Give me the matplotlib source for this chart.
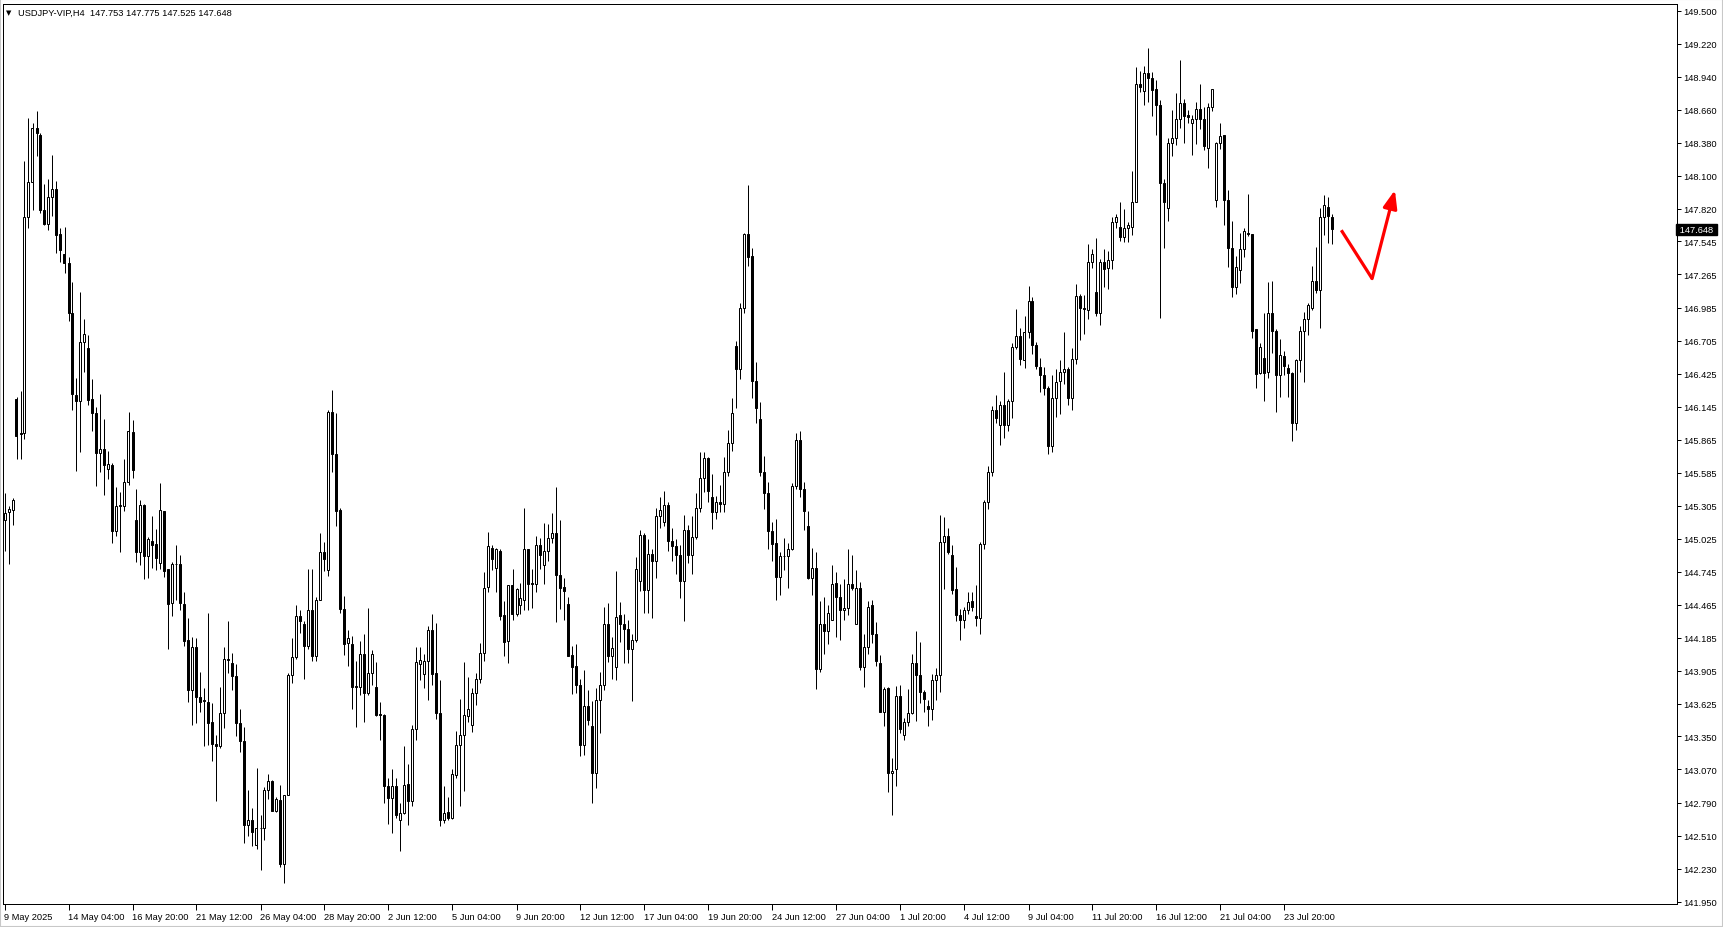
import numpy as np
import matplotlib.pyplot as plt
from matplotlib.patches import Rectangle
from matplotlib.transforms import blended_transform_factory

# USDJPY H4 candles (oldest first)
opens = [
    145.18, 145.25, 145.27, 146.21, 145.92, 145.92, 147.75, 148.05, 148.51, 148.45,
    147.81, 147.69, 147.92, 147.99, 147.61, 147.44, 147.36, 146.94, 146.24, 146.19,
    146.69, 146.64, 146.21, 146.09, 145.75, 145.79, 145.62, 145.65, 145.09, 145.30,
    145.30, 145.51, 145.93, 145.18, 144.91, 145.31, 144.88, 145.01, 144.98, 144.82,
    145.26, 144.77, 144.48, 144.81, 144.81, 144.47, 144.17, 143.74, 144.11, 143.68,
    143.66, 143.64, 143.47, 143.29, 143.27, 143.55, 144.01, 143.97, 143.86, 143.46,
    143.31, 142.60, 142.64, 142.43, 142.57, 142.57, 142.90, 142.97, 142.72, 142.81,
    142.27, 142.85, 143.87, 144.02, 144.37, 144.30, 144.12, 144.42, 144.03, 144.51,
    144.91, 144.76, 146.10, 145.74, 145.27, 144.43, 144.14, 144.13, 143.78, 143.77,
    144.05, 143.72, 143.89, 143.77, 143.54, 143.53, 142.93, 142.83, 142.93, 142.64,
    142.70, 142.95, 142.80, 143.41, 143.96, 143.88, 143.99, 144.25, 143.89, 143.55,
    142.64, 142.71, 142.66, 143.02, 143.28, 143.36, 143.52, 143.45, 143.72, 143.84,
    144.06, 144.62, 144.95, 144.78, 144.92, 144.38, 144.16, 144.63, 144.39, 144.46,
    144.51, 144.94, 144.65, 144.64, 144.97, 144.80, 144.92, 145.03, 145.07, 144.72,
    144.62, 144.47, 144.04, 143.95, 143.79, 143.28, 143.61, 143.44, 143.04, 143.66,
    143.79, 144.30, 144.03, 143.94, 144.38, 144.30, 144.26, 144.09, 144.17, 144.67,
    145.06, 144.59, 144.90, 144.84, 145.22, 145.17, 145.31, 145.01, 144.96, 144.89,
    144.67, 145.10, 144.89, 145.04, 145.29, 145.54, 145.71, 145.38, 145.25, 145.34,
    145.32, 145.59, 145.84, 146.66, 146.46, 146.98, 147.61, 147.42, 146.36, 146.04,
    145.59, 145.41, 145.09, 144.99, 144.70, 144.88, 144.88, 144.94, 145.47, 145.86,
    145.45, 145.13, 144.69, 144.78, 143.92, 144.30, 144.24, 144.34, 144.65, 144.53,
    144.42, 144.44, 144.64, 144.30, 144.61, 143.94, 144.11, 144.46, 144.22, 143.97,
    143.56, 143.76, 143.04, 143.07, 143.69, 143.36, 143.47, 143.55, 143.97, 143.87,
    143.73, 143.61, 143.58, 143.83, 143.87, 145.00, 145.05, 144.89, 144.60, 144.38,
    144.34, 144.42, 144.50, 144.37, 144.35, 144.98, 145.34, 145.59, 146.12, 145.99,
    146.16, 145.99, 146.19, 146.65, 146.74, 146.54, 146.78, 147.04, 146.67, 146.48,
    146.41, 146.30, 145.81, 146.22, 146.36, 146.44, 146.46, 146.22, 146.55, 147.08,
    146.98, 146.96, 147.37, 147.12, 146.94, 147.37, 147.32, 147.39, 147.71, 147.67,
    147.58, 147.66, 147.67, 147.88, 148.88, 148.82, 148.97, 148.93, 148.84, 148.70,
    148.04, 147.83, 148.38, 148.42, 148.58, 148.72, 148.62, 148.55, 148.58, 148.67,
    148.58, 148.34, 148.68, 147.90, 148.38, 148.45, 147.90, 147.49, 147.16, 147.30,
    147.48, 147.62, 147.61, 146.80, 146.43, 146.56, 146.44, 146.94, 146.79, 146.41,
    146.57, 146.47, 146.43, 146.01, 146.54, 146.79, 146.89, 146.98, 147.21, 147.13,
    147.75, 147.84, 147.753,
]
highs = [
    145.41, 145.30, 145.37, 146.23, 146.28, 148.23, 148.59, 148.55, 148.65, 148.46,
    148.03, 148.07, 148.28, 148.06, 147.66, 147.67, 147.41, 147.20, 146.39, 147.12,
    146.89, 146.75, 146.38, 146.14, 146.25, 146.04, 145.77, 145.67, 145.46, 145.42,
    145.70, 146.10, 146.03, 145.45, 145.35, 145.32, 145.04, 145.22, 145.11, 145.50,
    145.26, 144.77, 144.83, 144.97, 144.89, 144.57, 144.35, 144.19, 144.18, 143.90,
    143.76, 144.40, 143.63, 143.36, 143.77, 144.11, 144.33, 144.06, 143.96, 143.58,
    143.43, 142.90, 142.74, 143.08, 142.68, 142.92, 143.03, 142.98, 142.84, 142.94,
    142.85, 143.89, 144.18, 144.46, 144.42, 144.33, 144.77, 144.77, 144.53, 145.07,
    145.00, 146.12, 146.29, 146.09, 145.29, 144.54, 144.25, 144.20, 143.99, 144.16,
    144.22, 144.44, 144.08, 143.98, 143.64, 143.54, 143.00, 143.07, 143.00, 142.79,
    143.27, 143.12, 143.45, 144.11, 144.11, 144.05, 144.29, 144.39, 144.31, 143.83,
    142.93, 142.84, 143.07, 143.40, 143.67, 143.98, 143.85, 143.76, 143.89, 144.14,
    144.74, 145.08, 144.97, 144.95, 144.94, 144.50, 144.63, 144.77, 144.61, 144.65,
    145.29, 144.94, 144.77, 145.05, 145.03, 145.16, 145.15, 145.24, 145.46, 145.18,
    144.69, 144.53, 144.12, 144.13, 143.84, 143.91, 143.74, 143.65, 143.76, 143.90,
    144.45, 144.48, 144.19, 144.75, 144.49, 144.39, 144.34, 144.22, 144.87, 145.10,
    145.07, 145.02, 144.94, 145.29, 145.38, 145.43, 145.34, 145.12, 145.02, 144.97,
    145.23, 145.14, 145.22, 145.41, 145.76, 145.76, 145.72, 145.57, 145.39, 145.48,
    145.72, 145.95, 146.22, 146.70, 147.02, 147.62, 148.02, 147.49, 146.52, 146.18,
    145.73, 145.51, 145.17, 145.19, 144.91, 145.03, 144.99, 145.50, 145.92, 145.94,
    145.51, 145.26, 144.95, 144.91, 144.50, 144.53, 144.46, 144.80, 144.74, 144.64,
    144.68, 144.94, 144.89, 144.76, 144.66, 144.22, 144.50, 144.51, 144.32, 144.04,
    143.77, 143.77, 143.17, 143.78, 143.79, 143.51, 143.75, 144.05, 144.24, 144.15,
    143.74, 143.66, 143.88, 143.93, 145.23, 145.21, 145.12, 144.97, 144.79, 144.43,
    144.45, 144.57, 144.57, 144.63, 145.00, 145.35, 145.64, 146.15, 146.24, 146.19,
    146.44, 146.21, 146.68, 146.97, 146.81, 146.91, 147.17, 147.07, 146.69, 146.56,
    146.48, 146.32, 146.41, 146.46, 146.54, 146.78, 146.48, 146.64, 147.18, 147.10,
    147.09, 147.52, 147.48, 147.57, 147.40, 147.48, 147.46, 147.75, 147.78, 147.88,
    147.82, 147.71, 148.14, 149.02, 148.99, 149.03, 149.18, 148.98, 148.91, 148.74,
    148.07, 148.42, 148.66, 148.80, 149.08, 148.75, 148.66, 148.62, 148.73, 148.88,
    148.68, 148.72, 148.84, 148.39, 148.55, 148.45, 147.98, 147.72, 147.42, 147.62,
    147.66, 147.95, 147.61, 146.80, 146.68, 146.94, 147.20, 147.21, 146.80, 146.72,
    146.62, 146.51, 146.44, 146.55, 146.83, 146.95, 147.02, 147.34, 147.50, 147.83,
    147.94, 147.92, 147.775,
]
lows = [
    144.92, 144.81, 145.14, 145.70, 145.70, 145.87, 147.66, 147.81, 148.27, 147.79,
    147.68, 147.64, 147.76, 147.45, 147.37, 147.28, 146.87, 146.12, 145.60, 145.76,
    146.44, 146.16, 145.94, 145.47, 145.59, 145.40, 145.53, 144.99, 145.05, 144.91,
    145.26, 145.48, 145.54, 144.83, 144.80, 144.68, 144.69, 144.78, 144.76, 144.77,
    144.70, 144.09, 144.37, 144.51, 144.42, 144.12, 143.64, 143.45, 143.46, 143.56,
    143.27, 143.28, 143.14, 142.80, 143.25, 143.42, 143.89, 143.74, 143.35, 143.22,
    142.45, 142.51, 142.42, 142.40, 142.22, 142.47, 142.82, 142.72, 142.71, 142.24,
    142.11, 142.85, 143.80, 144.01, 144.23, 143.84, 144.09, 143.99, 143.99, 144.51,
    144.75, 144.71, 145.59, 145.13, 144.40, 144.04, 143.95, 143.58, 143.43, 143.70,
    143.47, 143.70, 143.79, 143.52, 143.32, 142.79, 142.61, 142.53, 142.66, 142.38,
    142.69, 142.60, 142.76, 143.32, 143.83, 143.76, 143.66, 143.79, 143.50, 142.59,
    142.62, 142.64, 142.65, 143.00, 142.76, 142.89, 143.47, 143.39, 143.62, 143.80,
    143.99, 144.57, 144.76, 144.57, 144.34, 144.03, 143.97, 144.34, 144.37, 144.39,
    144.42, 144.42, 144.44, 144.57, 144.77, 144.64, 144.84, 144.99, 144.32, 144.43,
    144.34, 144.03, 143.71, 143.72, 143.18, 143.19, 143.45, 142.79, 142.91, 143.38,
    143.74, 143.98, 143.84, 143.83, 144.15, 143.97, 143.97, 143.65, 144.15, 144.58,
    144.40, 144.40, 144.35, 144.69, 145.12, 145.13, 144.92, 144.84, 144.73, 144.52,
    144.33, 144.82, 144.73, 145.02, 145.25, 145.42, 145.34, 145.11, 145.19, 145.25,
    145.25, 145.56, 145.77, 146.13, 146.38, 146.94, 147.34, 146.22, 146.01, 145.56,
    145.28, 144.94, 144.84, 144.51, 144.55, 144.76, 144.61, 144.93, 145.45, 145.38,
    145.10, 144.68, 144.55, 143.75, 143.90, 144.05, 144.13, 144.34, 144.19, 144.17,
    144.34, 144.38, 144.59, 144.30, 143.91, 143.77, 144.05, 144.14, 143.95, 143.56,
    143.44, 142.88, 142.68, 142.93, 143.38, 143.32, 143.44, 143.54, 143.48, 143.63,
    143.56, 143.44, 143.49, 143.66, 143.73, 144.60, 144.90, 144.56, 144.33, 144.17,
    144.27, 144.39, 144.41, 144.29, 144.22, 144.94, 145.28, 145.56, 146.01, 145.82,
    145.88, 145.94, 146.05, 146.63, 146.50, 146.47, 146.73, 146.59, 146.46, 146.27,
    146.24, 145.74, 145.76, 146.06, 146.08, 146.34, 146.16, 146.12, 146.51, 146.71,
    146.76, 146.89, 147.32, 146.91, 146.84, 147.16, 147.14, 147.31, 147.66, 147.55,
    147.54, 147.54, 147.60, 147.88, 148.81, 148.70, 148.73, 148.61, 148.45, 146.90,
    147.49, 147.72, 148.27, 148.36, 148.51, 148.38, 148.55, 148.28, 148.37, 148.50,
    148.32, 148.17, 148.65, 147.84, 148.33, 147.68, 147.33, 147.07, 147.10, 147.19,
    147.41, 147.59, 146.73, 146.30, 146.42, 146.19, 146.39, 146.60, 146.10, 146.23,
    146.41, 146.23, 145.85, 145.95, 146.44, 146.35, 146.75, 146.96, 147.11, 146.81,
    147.60, 147.53, 147.525,
]
closes = [
    145.24, 145.28, 145.35, 145.90, 145.91, 147.75, 148.05, 148.51, 148.46, 147.81,
    147.69, 147.92, 147.99, 147.60, 147.47, 147.36, 146.94, 146.25, 146.19, 146.69,
    146.76, 146.20, 146.09, 145.75, 145.79, 145.65, 145.66, 145.09, 145.30, 145.31,
    145.51, 145.94, 145.61, 144.91, 145.31, 144.88, 145.02, 144.97, 144.86, 145.27,
    144.75, 144.47, 144.81, 144.81, 144.48, 144.16, 143.74, 144.11, 143.68, 143.64,
    143.65, 143.46, 143.29, 143.27, 143.55, 144.01, 144.00, 143.86, 143.46, 143.31,
    142.60, 142.64, 142.54, 142.57, 142.57, 142.90, 142.97, 142.72, 142.82, 142.27,
    142.85, 143.87, 144.02, 144.37, 144.33, 144.12, 144.42, 144.03, 144.51, 144.91,
    144.85, 146.10, 145.74, 145.26, 144.43, 144.13, 144.18, 143.77, 143.77, 144.05,
    143.72, 143.89, 144.05, 143.53, 143.53, 142.93, 142.83, 142.93, 142.68, 142.70,
    142.94, 142.80, 143.41, 143.98, 144.00, 143.99, 144.25, 143.88, 143.55, 142.64,
    142.70, 142.66, 143.03, 143.28, 143.36, 143.53, 143.58, 143.72, 143.84, 144.06,
    144.61, 144.96, 144.85, 144.94, 144.37, 144.15, 144.63, 144.39, 144.60, 144.52,
    144.94, 144.64, 144.64, 144.97, 144.89, 144.92, 145.03, 145.07, 144.72, 144.61,
    144.58, 144.03, 143.94, 143.79, 143.28, 143.61, 143.49, 143.04, 143.66, 143.79,
    144.30, 144.03, 144.10, 144.36, 144.30, 144.26, 144.09, 144.17, 144.77, 145.06,
    144.59, 144.90, 144.84, 145.22, 145.27, 145.31, 145.01, 144.96, 144.89, 144.67,
    145.10, 144.89, 145.04, 145.29, 145.54, 145.71, 145.43, 145.25, 145.34, 145.32,
    145.59, 145.84, 146.09, 146.46, 146.98, 147.61, 147.41, 146.36, 146.13, 145.59,
    145.41, 145.09, 144.98, 144.70, 144.88, 144.88, 144.94, 145.47, 145.86, 145.45,
    145.26, 144.69, 144.78, 143.92, 144.30, 144.24, 144.40, 144.64, 144.53, 144.42,
    144.44, 144.64, 144.61, 144.61, 143.94, 144.11, 144.45, 144.22, 143.99, 143.56,
    143.75, 143.04, 143.06, 143.69, 143.41, 143.47, 143.55, 143.97, 143.87, 143.73,
    143.67, 143.58, 143.83, 143.87, 145.00, 145.05, 144.91, 144.59, 144.38, 144.34,
    144.42, 144.49, 144.45, 144.35, 144.98, 145.34, 145.59, 146.12, 146.05, 146.16,
    145.99, 146.19, 146.65, 146.74, 146.55, 146.78, 147.04, 146.67, 146.49, 146.41,
    146.30, 145.81, 146.22, 146.35, 146.44, 146.46, 146.22, 146.55, 147.08, 146.98,
    146.97, 147.37, 147.44, 146.94, 147.37, 147.31, 147.39, 147.71, 147.75, 147.58,
    147.66, 147.68, 147.88, 148.88, 148.85, 148.97, 148.93, 148.83, 148.70, 148.04,
    147.88, 148.38, 148.42, 148.58, 148.72, 148.61, 148.60, 148.58, 148.67, 148.58,
    148.35, 148.68, 148.84, 148.38, 148.44, 147.90, 147.49, 147.16, 147.33, 147.48,
    147.63, 147.61, 146.79, 146.42, 146.65, 146.43, 146.94, 146.79, 146.41, 146.58,
    146.49, 146.43, 146.01, 146.54, 146.79, 146.89, 147.01, 147.21, 147.13, 147.75,
    147.85, 147.76, 147.648,
]

price_ticks = [149.500, 149.220, 148.940, 148.660, 148.380, 148.100, 147.820, 147.545,
               147.265, 146.985, 146.705, 146.425, 146.145, 145.865, 145.585, 145.305,
               145.025, 144.745, 144.465, 144.185, 143.905, 143.625, 143.350, 143.070,
               142.790, 142.510, 142.230, 141.950]
time_labels = ["9 May 2025", "14 May 04:00", "16 May 20:00", "21 May 12:00", "26 May 04:00",
               "28 May 20:00", "2 Jun 12:00", "5 Jun 04:00", "9 Jun 20:00", "12 Jun 12:00",
               "17 Jun 04:00", "19 Jun 20:00", "24 Jun 12:00", "27 Jun 04:00", "1 Jul 20:00",
               "4 Jul 12:00", "9 Jul 04:00", "11 Jul 20:00", "16 Jul 12:00", "21 Jul 04:00",
               "23 Jul 20:00"]
bars_per_label = 16
header = "USDJPY-VIP,H4  147.753 147.775 147.525 147.648"

# hand drawn red "V" projection after the last bar (bar index, price)
arrow_x = [334.2, 341.9, 347.6]
arrow_y = [147.64, 147.23, 147.98]

plt.rcParams['font.family'] = ['Liberation Sans', 'DejaVu Sans']
W, H = 1723, 928
PX = 72 / 100  # one pixel in points at dpi 100
fig = plt.figure(figsize=(W / 100, H / 100), dpi=100)
ax = fig.add_axes([3 / W, 1 - 905 / H, (1677 - 3) / W, (905 - 5) / H])

o = np.array(opens)
h = np.array(highs)
l = np.array(lows)
c = np.array(closes)
x = np.arange(len(c))
up = c >= o

# wicks, then bodies: white = bull, black = bear
ax.vlines(x, l, h, color='black', linewidth=PX, zorder=2)
ax.bar(x, np.abs(c - o), bottom=np.minimum(o, c), width=0.5,
       color=np.where(up, 'white', 'black'), edgecolor='black', linewidth=PX, zorder=3)

ax.plot(arrow_x[:2], arrow_y[:2], color='red', linewidth=2.3, solid_capstyle='butt', zorder=4)
ax.annotate('', xy=(arrow_x[2], arrow_y[2]), xytext=(arrow_x[1], arrow_y[1]),
            arrowprops=dict(arrowstyle='-|>,head_length=0.9,head_width=0.35', color='red',
                            lw=2.3, mutation_scale=12, shrinkA=0, shrinkB=0), zorder=4)

# half a pixel shift puts every bar on a pixel centre
ax.set_xlim(-0.375, 418.125)
ax.set_ylim(141.930, 149.557)

ax.yaxis.tick_right()
ax.set_yticks(price_ticks)
ax.set_yticklabels([f"{p:.3f}" for p in price_ticks])
ax.tick_params(axis='y', direction='out', length=3, width=PX, pad=1.5, labelsize=6.7)

ax.set_xticks([i * bars_per_label for i in range(len(time_labels))])
ax.set_xticklabels(time_labels)
ax.tick_params(axis='x', direction='out', length=4, width=PX, pad=1.5, labelsize=6.7)
for lab in ax.get_xticklabels():
    lab.set_horizontalalignment('left')

for sp in ax.spines.values():
    sp.set_linewidth(PX)
    sp.set_color('black')

# last price marker on the price scale
trans = blended_transform_factory(ax.transAxes, ax.transData)
ax.text(1.0, closes[-1], f" {closes[-1]:.3f} ", transform=trans, ha='left', va='center',
        color='white', fontsize=6.7, clip_on=False, zorder=6,
        bbox=dict(boxstyle='square,pad=0.12', facecolor='black', edgecolor='black'))

# chart header
fig.text(6 / W, 1 - 13 / H, "\u25bc", fontsize=5, family='DejaVu Sans', va='center')
fig.text(18 / W, 1 - 13 / H, header, fontsize=6.7, va='center')

fig.patches.append(Rectangle((0, 0), 1, 1, transform=fig.transFigure, fill=False,
                             edgecolor='#c8c8c8', linewidth=1.5))

fig.savefig('out.png', dpi=100, facecolor='white')
